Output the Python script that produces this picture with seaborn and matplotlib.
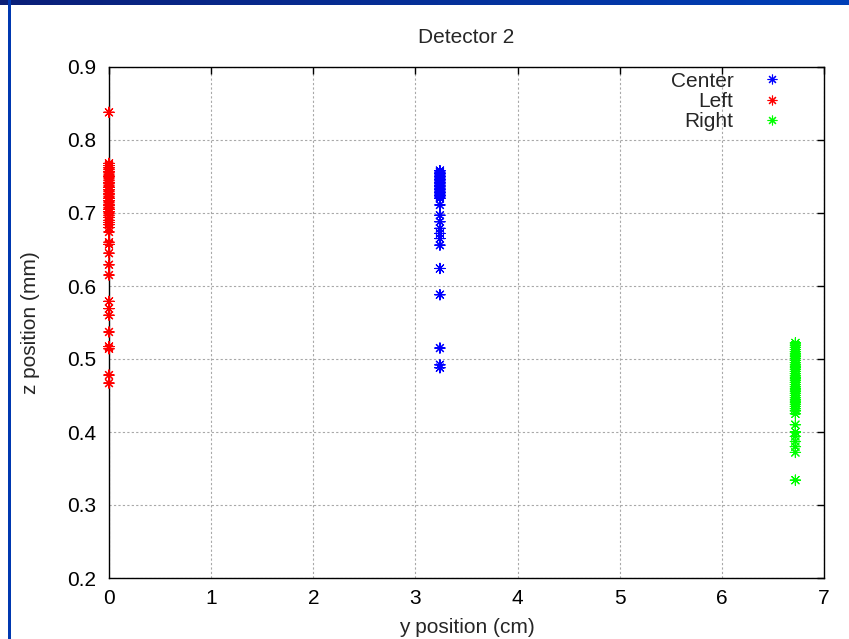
import numpy as np
import pandas as pd
import matplotlib
matplotlib.use('Agg')
import matplotlib.pyplot as plt
from matplotlib.lines import Line2D
import seaborn as sns

sns.set_style('white')
plt.rcParams['font.family'] = ['Liberation Sans', 'DejaVu Sans']

# y position (cm) of each detector column
center_y = 3.24
left_y = 0.0
right_y = 6.72

# z positions (mm)
center_z = [0.758, 0.756, 0.754, 0.752, 0.750, 0.748, 0.746, 0.744, 0.742, 0.740,
            0.738, 0.736, 0.734, 0.732, 0.730, 0.728, 0.726, 0.724, 0.722, 0.720,
            0.711, 0.697, 0.688, 0.679, 0.672, 0.665, 0.656, 0.624, 0.588,
            0.515, 0.492, 0.488]
left_z = [0.838, 0.768, 0.765, 0.762, 0.760, 0.757, 0.755, 0.752, 0.750, 0.748,
          0.745, 0.742, 0.740, 0.737, 0.735, 0.732, 0.730, 0.727, 0.725, 0.722,
          0.720, 0.717, 0.715, 0.712, 0.710, 0.707, 0.705, 0.702, 0.700, 0.697,
          0.694, 0.690, 0.687, 0.684, 0.680, 0.674, 0.660, 0.657, 0.645, 0.629,
          0.615, 0.579, 0.569, 0.560, 0.537, 0.517, 0.514, 0.478, 0.467]
right_z = [0.522, 0.519, 0.516, 0.513, 0.510, 0.507, 0.504, 0.501, 0.498, 0.495,
           0.492, 0.489, 0.486, 0.483, 0.480, 0.477, 0.474, 0.471, 0.468, 0.465,
           0.462, 0.459, 0.456, 0.453, 0.450, 0.447, 0.444, 0.441, 0.438, 0.435,
           0.432, 0.429, 0.425, 0.410, 0.400, 0.394, 0.387, 0.380, 0.372, 0.334]

series = ['Center', 'Left', 'Right']
colors = ['#0000ff', '#ff0000', '#00ff00']

df = pd.concat([
    pd.DataFrame({'y': center_y, 'z': center_z, 'det': 'Center'}),
    pd.DataFrame({'y': left_y, 'z': left_z, 'det': 'Left'}),
    pd.DataFrame({'y': right_y, 'z': right_z, 'det': 'Right'}),
])

fig = plt.figure(figsize=(8.49, 6.39), dpi=100)
ax = fig.add_axes([109/849, 1-578/639, 715/849, 511/639])

star = (8, 2, 0)
sns.scatterplot(data=df, x='y', y='z', hue='det', hue_order=series,
                palette=colors, marker=star, s=55, linewidth=0.8,
                legend=False, ax=ax, clip_on=False, zorder=3)

fs = 15
ax.set_xlim(0, 7)
ax.set_ylim(0.2, 0.9)
ax.set_xticks(np.arange(0, 8, 1))
ax.set_yticks(np.arange(0.2, 0.91, 0.1))
ax.set_yticklabels(['0.2', '0.3', '0.4', '0.5', '0.6', '0.7', '0.8', '0.9'])
ax.grid(True, color='#a8a8a8', linestyle=(0, (2, 2)), linewidth=0.8)
ax.tick_params(direction='in', length=5, width=1, top=True, right=True,
               labelsize=fs, colors='black')
ax.tick_params(axis='x', pad=8)
ax.tick_params(axis='y', pad=9)
for s in ax.spines.values():
    s.set_color('black')
    s.set_linewidth(1)

ax.set_title('Detector 2', fontsize=fs, pad=17)
ax.set_xlabel('y position (cm)', fontsize=fs, labelpad=7)
ax.set_ylabel('z position (mm)', fontsize=fs, labelpad=20)

handles = [Line2D([], [], linestyle='none', marker=star, color=c,
                  markersize=7, markeredgewidth=0.8) for c in colors]
ax.legend(handles, series, loc='upper right', frameon=False, markerfirst=False,
          fontsize=fs, handlelength=1.0, handletextpad=1.33, labelspacing=0.05,
          borderaxespad=0.0, bbox_to_anchor=(0.953, 1.007))

# slide decoration: top bar and left rule
deco = fig.add_axes([0, 1-5/639, 1, 5/639])
grad = np.linspace(0, 1, 256)[None, :]
cmap = matplotlib.colors.LinearSegmentedColormap.from_list('bar', ['#0b1f78', '#0040b8'])
deco.imshow(grad, aspect='auto', cmap=cmap)
deco.axis('off')
fig.add_artist(plt.Rectangle((8/849, 0), 3/849, 1, transform=fig.transFigure,
                             color='#0038b0', lw=0))

fig.savefig('out.png', dpi=100)
